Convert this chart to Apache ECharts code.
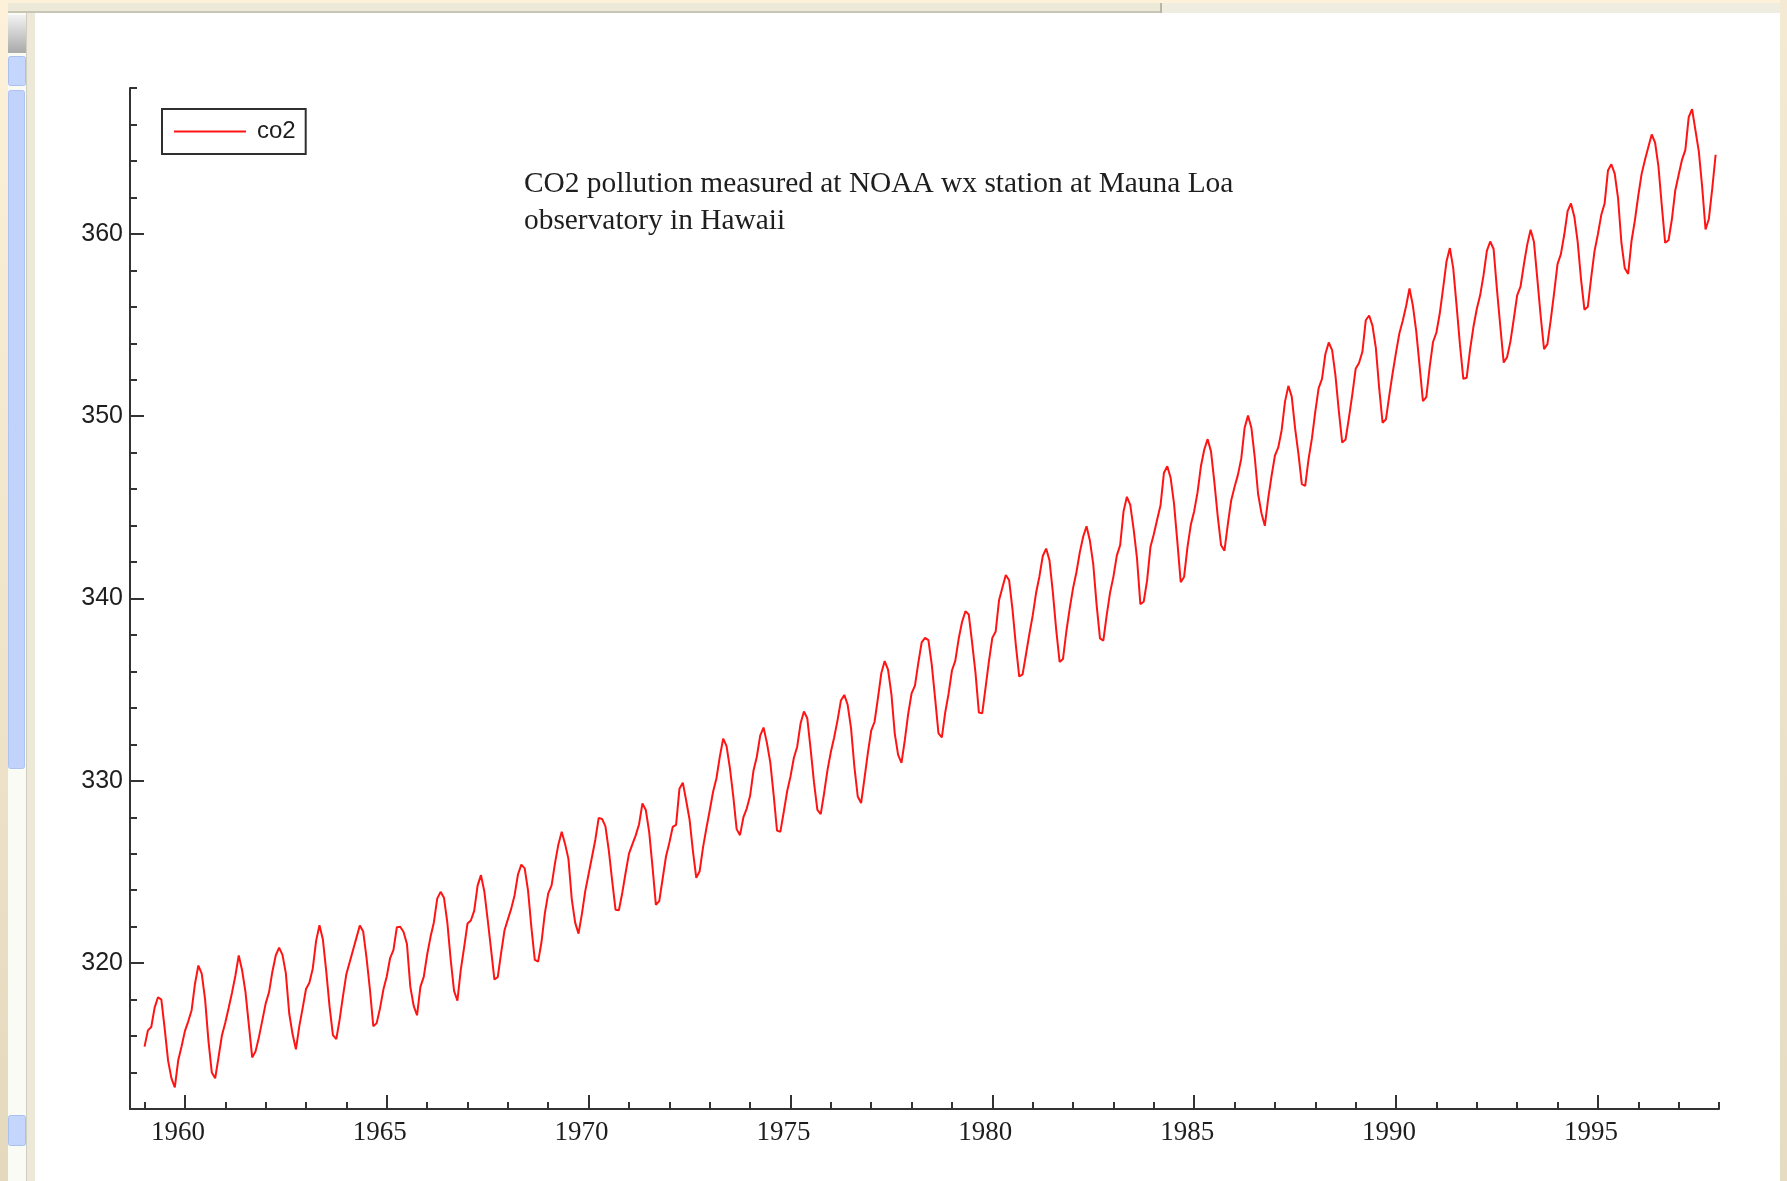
<!DOCTYPE html>
<html>
<head>
<meta charset="utf-8">
<style>
  html, body { margin: 0; padding: 0; background: #ffffff; }
  #chart { width: 1787px; height: 1181px; }
</style>
<script src="https://cdn.jsdelivr.net/npm/echarts@6/dist/echarts.min.js"></script>
</head>
<body>
<div id="chart"></div>
<script>
// Monthly CO2 concentration (ppm), Mauna Loa, Jan 1959 – Dec 1997
const startYear = 1959;
const co2 = [
  315.42,316.31,316.50,317.56,318.13,318.00,316.39,314.65,313.68,313.18,314.66,315.43,
  316.27,316.81,317.42,318.87,319.87,319.43,318.01,315.74,314.00,313.68,314.84,316.03,
  316.73,317.54,318.38,319.31,320.42,319.61,318.42,316.63,314.83,315.16,315.94,316.85,
  317.78,318.40,319.53,320.42,320.85,320.45,319.45,317.25,316.11,315.27,316.53,317.53,
  318.58,318.92,319.70,321.22,322.08,321.31,319.58,317.61,316.05,315.83,316.91,318.20,
  319.41,320.07,320.74,321.40,322.06,321.73,320.27,318.54,316.54,316.71,317.53,318.55,
  319.27,320.28,320.73,321.97,322.00,321.71,321.05,318.71,317.66,317.14,318.70,319.25,
  320.46,321.43,322.23,323.54,323.91,323.59,322.24,320.20,318.48,317.94,319.63,320.87,
  322.17,322.34,322.88,324.25,324.83,323.93,322.38,320.76,319.10,319.24,320.56,321.80,
  322.40,322.99,323.73,324.86,325.40,325.20,323.98,321.95,320.18,320.09,321.16,322.74,
  323.83,324.26,325.47,326.50,327.21,326.54,325.72,323.50,322.22,321.62,322.69,323.95,
  324.89,325.82,326.77,327.97,327.91,327.50,326.18,324.53,322.93,322.90,323.85,324.96,
  326.01,326.51,327.01,327.62,328.76,328.40,327.20,325.27,323.20,323.40,324.63,325.85,
  326.60,327.47,327.58,329.56,329.90,328.92,327.88,326.16,324.68,325.04,326.34,327.39,
  328.37,329.40,330.14,331.33,332.31,331.90,330.70,329.15,327.35,327.02,327.99,328.48,
  329.18,330.55,331.32,332.48,332.92,332.08,331.01,329.23,327.27,327.21,328.29,329.41,
  330.23,331.25,331.87,333.14,333.80,333.43,331.73,329.90,328.40,328.17,329.32,330.59,
  331.58,332.39,333.33,334.41,334.71,334.17,332.89,330.77,329.14,328.78,330.14,331.52,
  332.75,333.24,334.53,335.90,336.57,336.10,334.76,332.59,331.42,330.98,332.24,333.68,
  334.80,335.22,336.47,337.59,337.84,337.72,336.37,334.51,332.60,332.38,333.75,334.78,
  336.05,336.59,337.79,338.71,339.30,339.12,337.56,335.92,333.75,333.70,335.12,336.56,
  337.84,338.19,339.91,340.60,341.29,341.00,339.39,337.43,335.72,335.84,336.93,338.04,
  339.06,340.30,341.21,342.33,342.74,342.08,340.32,338.26,336.52,336.68,338.19,339.44,
  340.57,341.44,342.53,343.39,343.96,343.18,341.88,339.65,337.81,337.69,339.09,340.32,
  341.20,342.35,342.93,344.77,345.58,345.14,343.81,342.21,339.69,339.82,340.98,342.82,
  343.52,344.33,345.11,346.88,347.25,346.62,345.22,343.11,340.90,341.18,342.80,344.04,
  344.79,345.82,347.25,348.17,348.74,348.07,346.38,344.51,342.92,342.62,344.06,345.38,
  346.11,346.78,347.68,349.37,350.03,349.37,347.76,345.73,344.68,343.99,345.48,346.72,
  347.84,348.29,349.23,350.80,351.66,351.07,349.33,347.92,346.27,346.18,347.64,348.78,
  350.25,351.54,352.05,353.41,354.04,353.62,352.22,350.27,348.55,348.72,349.91,351.18,
  352.60,352.92,353.53,355.26,355.52,354.97,353.75,351.52,349.64,349.83,351.14,352.37,
  353.50,354.55,355.23,356.04,357.00,356.07,354.67,352.76,350.82,351.04,352.69,354.07,
  354.59,355.63,357.03,358.48,359.22,358.12,356.06,353.92,352.05,352.11,353.64,354.89,
  355.88,356.63,357.72,359.07,359.58,359.17,356.94,354.92,352.94,353.23,354.09,355.33,
  356.63,357.10,358.32,359.41,360.23,359.55,357.53,355.48,353.67,353.95,355.30,356.78,
  358.34,358.89,359.95,361.25,361.67,360.94,359.55,357.49,355.84,356.00,357.59,359.05,
  359.98,361.03,361.66,363.48,363.82,363.30,361.94,359.50,358.11,357.80,359.61,360.74,
  362.09,363.29,364.06,364.76,365.45,365.01,363.70,361.54,359.51,359.65,360.80,362.38,
  363.23,364.06,364.61,366.40,366.84,365.68,364.52,362.57,360.24,360.83,362.49,364.34
];

// Axis ticks / labels
const xMajorTicks = [1960, 1965, 1970, 1975, 1980, 1985, 1990, 1995];
const xMinorTicks = [1959,1960,1961,1962,1963,1964,1965,1966,1967,1968,1969,1970,1971,1972,1973,1974,1975,1976,1977,1978,1979,1980,1981,1982,1983,1984,1985,1986,1987,1988,1989,1990,1991,1992,1993,1994,1995,1996,1997,1998];
const yMajorTicks = [320, 330, 340, 350, 360];
const yMinorTicks = [312,314,316,318,320,322,324,326,328,330,332,334,336,338,340,342,344,346,348,350,352,354,356,358,360,362,364,366,368];

const titleLines = ['CO2 pollution measured at NOAA wx station at Mauna Loa', 'observatory in Hawaii'];
const seriesName = 'co2';

const seriesData = co2.map((v, i) => [startYear + i / 12, v]);

const axisColor = '#333333';
const textColor = '#1e1e1e';
const lineColor = '#ff1414';

const chart = echarts.init(document.getElementById('chart'), null, { renderer: 'canvas' });

const option = {
  animation: false,
  backgroundColor: '#ffffff',
  title: {
    text: titleLines.join('\n'),
    left: 524,
    top: 166,
    padding: 0,
    textStyle: {
      fontFamily: 'Liberation Serif',
      fontSize: 29.4,
      fontWeight: 'normal',
      lineHeight: 37,
      color: textColor
    }
  },
  legend: {
    left: 162,
    top: 109,
    orient: 'horizontal',
    padding: [9, 10, 9, 12],
    borderColor: '#303030',
    borderWidth: 2,
    icon: 'rect',
    itemWidth: 72,
    itemHeight: 2,
    itemStyle: { color: lineColor },
    textStyle: {
      fontFamily: 'Liberation Sans',
      fontSize: 24,
      lineHeight: 27,
      color: textColor,
      padding: [0, 0, 0, 6]
    },
    data: [seriesName]
  },
  grid: {
    left: 130,
    right: 68,
    top: 88,
    bottom: 72,
    containLabel: false
  },
  xAxis: [
    {
      type: 'value',
      min: 1958.64,
      max: 1998,
      position: 'bottom',
      axisLine: { show: true, onZero: false, lineStyle: { color: axisColor, width: 2 } },
      axisTick: { show: true, inside: true, length: 14, customValues: xMajorTicks, lineStyle: { color: axisColor, width: 2 } },
      axisLabel: {
        show: true,
        customValues: xMajorTicks,
        formatter: (v) => String(Math.round(v)),
        fontFamily: 'Liberation Serif',
        fontSize: 27,
        color: textColor,
        margin: 10,
        padding: [0, 14, 0, 0]
      },
      splitLine: { show: false }
    },
    {
      type: 'value',
      min: 1958.64,
      max: 1998,
      position: 'bottom',
      axisLine: { show: false, onZero: false },
      axisTick: { show: true, inside: true, length: 7, customValues: xMinorTicks, lineStyle: { color: axisColor, width: 2 } },
      axisLabel: { show: false },
      splitLine: { show: false }
    }
  ],
  yAxis: [
    {
      type: 'value',
      min: 312,
      max: 368,
      position: 'left',
      axisLine: { show: true, onZero: false, lineStyle: { color: axisColor, width: 2 } },
      axisTick: { show: true, inside: true, length: 14, customValues: yMajorTicks, lineStyle: { color: axisColor, width: 2 } },
      axisLabel: {
        show: true,
        customValues: yMajorTicks,
        formatter: (v) => String(Math.round(v)),
        fontFamily: 'Liberation Sans',
        fontSize: 25,
        color: textColor,
        margin: 7
      },
      splitLine: { show: false }
    },
    {
      type: 'value',
      min: 312,
      max: 368,
      position: 'left',
      axisLine: { show: false, onZero: false },
      axisTick: { show: true, inside: true, length: 7, customValues: yMinorTicks, lineStyle: { color: axisColor, width: 2 } },
      axisLabel: { show: false },
      splitLine: { show: false }
    }
  ],
  series: [
    {
      name: seriesName,
      type: 'line',
      xAxisIndex: 0,
      yAxisIndex: 0,
      data: seriesData,
      symbol: 'none',
      showSymbol: false,
      smooth: false,
      lineStyle: { color: lineColor, width: 2 },
      itemStyle: { color: lineColor }
    }
  ],
  graphic: [
    // top window chrome
    { type: 'rect', left: 0, top: 0, shape: { width: 1787, height: 3 }, style: { fill: '#fdf1da' }, silent: true },
    { type: 'rect', left: 0, top: 3, shape: { width: 1787, height: 9 }, style: { fill: '#ece9d8' }, silent: true },
    { type: 'rect', left: 0, top: 11, shape: { width: 1162, height: 2 }, style: { fill: '#c8c5b5' }, silent: true },
    { type: 'rect', left: 1160, top: 3, shape: { width: 2, height: 10 }, style: { fill: '#b9b6a6' }, silent: true },
    { type: 'rect', left: 1162, top: 3, shape: { width: 625, height: 10 }, style: { fill: '#efece0' }, silent: true },
    // left window chrome
    { type: 'rect', left: 0, top: 0, shape: { width: 8, height: 1181 },
      style: { fill: new echarts.graphic.LinearGradient(0, 0, 0, 1, [{ offset: 0, color: '#fdf1da' }, { offset: 1, color: '#e4d9bd' }]) }, silent: true },
    { type: 'rect', left: 8, top: 13, shape: { width: 19, height: 1168 }, style: { fill: '#fbfbf6' }, silent: true },
    { type: 'rect', left: 8, top: 15, shape: { width: 18, height: 38 },
      style: { fill: new echarts.graphic.LinearGradient(0, 0, 0, 1, [{ offset: 0, color: '#f2f2f2' }, { offset: 1, color: '#a9a9a9' }]) }, silent: true },
    { type: 'rect', left: 8, top: 56, shape: { width: 17, height: 29, r: 2 }, style: { fill: '#c4d6fb', stroke: '#aac0f0', lineWidth: 1 }, silent: true },
    { type: 'rect', left: 8, top: 90, shape: { width: 16, height: 678, r: 2 }, style: { fill: '#c1d3fb', stroke: '#aec3f2', lineWidth: 1 }, silent: true },
    { type: 'rect', left: 8, top: 1115, shape: { width: 17, height: 30, r: 2 }, style: { fill: '#c4d6fb', stroke: '#aac0f0', lineWidth: 1 }, silent: true },
    { type: 'rect', left: 26, top: 13, shape: { width: 9, height: 1168 }, style: { fill: '#ece9d8' }, silent: true },
    { type: 'rect', left: 26, top: 13, shape: { width: 1, height: 1168 }, style: { fill: '#d2cebe' }, silent: true },
    // right window chrome
    { type: 'rect', left: 1780, top: 0, shape: { width: 7, height: 1181 },
      style: { fill: new echarts.graphic.LinearGradient(0, 0, 0, 1, [{ offset: 0, color: '#f4ead4' }, { offset: 1, color: '#e6dcc2' }]) }, silent: true }
  ]
};

chart.setOption(option);
</script>
</body>
</html>
